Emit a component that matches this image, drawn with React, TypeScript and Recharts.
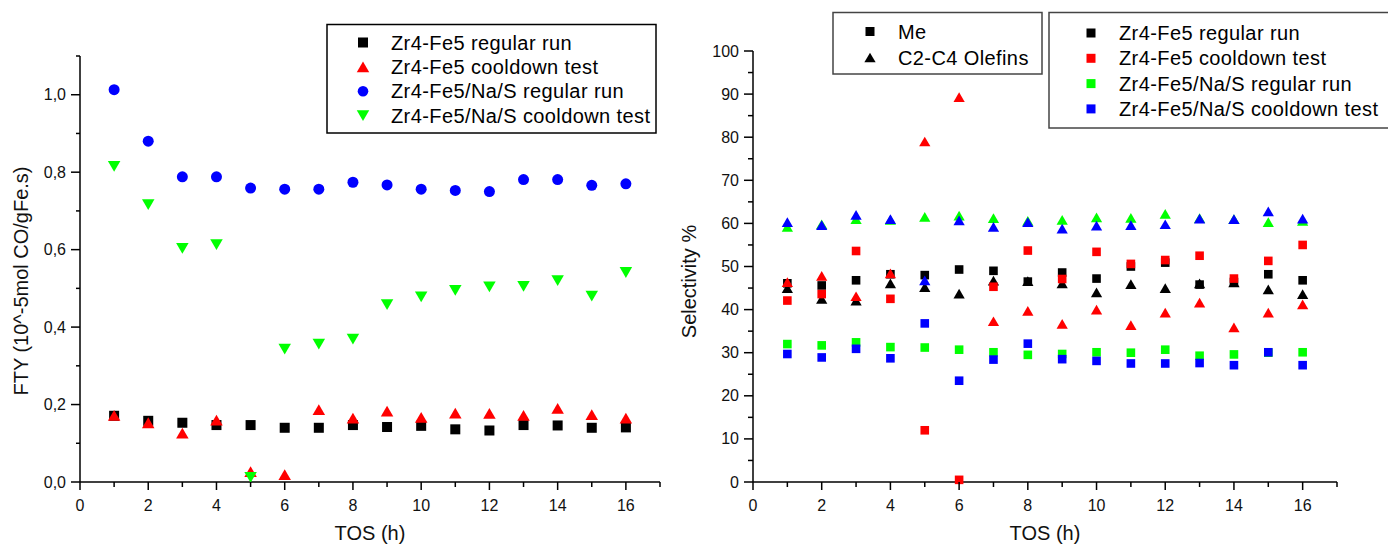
import React from "react";
import { ScatterChart, Scatter, XAxis, YAxis, Label } from "recharts";

// time on stream (h)
const tos = [1, 2, 3, 4, 5, 6, 7, 8, 9, 10, 11, 12, 13, 14, 15, 16];
const tosTicks = [0, 1, 2, 3, 4, 5, 6, 7, 8, 9, 10, 11, 12, 13, 14, 15, 16, 17];
const ftyTicks = [0, 0.1, 0.2, 0.3, 0.4, 0.5, 0.6, 0.7, 0.8, 0.9, 1.0, 1.1];
const selTicks = [0, 5, 10, 15, 20, 25, 30, 35, 40, 45, 50, 55, 60, 65, 70, 75, 80, 85, 90, 95, 100];

// left panel: FTY (10^-5 mol CO/gFe.s)
const ftyFe5Regular = [0.171, 0.158, 0.153, 0.147, 0.147, 0.14, 0.14, 0.147, 0.142, 0.145, 0.136, 0.133, 0.147, 0.146, 0.14, 0.141];
const ftyFe5Cooldown = [0.172, 0.153, 0.126, 0.16, 0.027, 0.019, 0.187, 0.165, 0.183, 0.167, 0.178, 0.177, 0.172, 0.19, 0.174, 0.165];
const ftyNaSRegular = [1.013, 0.88, 0.788, 0.788, 0.759, 0.756, 0.756, 0.774, 0.767, 0.756, 0.753, 0.75, 0.781, 0.781, 0.766, 0.77];
const ftyNaSCooldown = [0.815, 0.716, 0.603, 0.613, 0.012, 0.343, 0.356, 0.369, 0.458, 0.478, 0.495, 0.504, 0.505, 0.52, 0.48, 0.541];

// right panel: selectivity %
const meFe5Regular = [46.1, 45.6, 46.8, 48.2, 48.0, 49.3, 49.0, 46.5, 48.6, 47.2, 50.0, 50.9, 45.8, 46.4, 48.2, 46.8];
const olFe5Regular = [45.0, 42.5, 42.1, 46.1, 45.2, 43.7, 46.7, 46.6, 46.1, 44.0, 45.9, 45.0, 46.1, 46.3, 44.7, 43.6];
const meFe5Cooldown = [42.1, 43.6, 53.6, 42.5, 12.0, 0.5, 45.3, 53.7, 47.1, 53.4, 50.6, 51.5, 52.5, 47.2, 51.3, 55.0];
const olFe5Cooldown = [46.4, 47.8, 43.1, 48.4, 79.0, 89.3, 37.3, 39.7, 36.7, 40.0, 36.4, 39.3, 41.6, 35.9, 39.3, 41.2];
const meNaSRegular = [32.0, 31.7, 32.4, 31.3, 31.2, 30.7, 30.1, 29.5, 29.7, 30.1, 30.0, 30.7, 29.3, 29.6, 30.0, 30.1];
const olNaSRegular = [59.2, 59.8, 61.0, 60.8, 61.5, 61.8, 61.2, 60.6, 60.8, 61.4, 61.3, 62.2, 61.2, 61.0, 60.3, 60.6];
const meNaSCooldown = [29.7, 28.9, 30.9, 28.7, 36.8, 23.5, 28.4, 32.1, 28.5, 28.1, 27.5, 27.5, 27.6, 27.1, 30.1, 27.1];
const olNaSCooldown = [60.3, 59.6, 62.0, 61.0, 46.8, 60.7, 59.2, 60.3, 58.8, 59.5, 59.6, 59.8, 61.1, 61.0, 62.8, 61.1];

const leftLegend = [
  "Zr4-Fe5 regular run",
  "Zr4-Fe5 cooldown test",
  "Zr4-Fe5/Na/S regular run",
  "Zr4-Fe5/Na/S cooldown test",
];
const productLegend = ["Me", "C2-C4 Olefins"];
const sampleLegend = leftLegend;

const BLACK = "#000000";
const RED = "#ff0000";
const GREEN = "#00ff00";
const BLUE = "#0000ff";
const FONT = "'Liberation Sans', Arial, sans-serif";

const toPoints = (vals: number[]) => vals.map((v, i) => ({ x: tos[i], y: v }));

type Kind = "square" | "circle" | "up" | "down";

function Marker({ cx, cy, kind, color, size }: { cx: number; cy: number; kind: Kind; color: string; size: number }) {
  if (cx == null || cy == null) return null;
  const h = size / 2;
  if (kind === "square") return <rect x={cx - h} y={cy - h} width={size} height={size} fill={color} />;
  if (kind === "circle") return <circle cx={cx} cy={cy} r={h + 0.3} fill={color} />;
  const w = size * 1.25;
  const th = size * 1.08;
  if (kind === "up")
    return <polygon points={`${cx},${cy - th / 2} ${cx - w / 2},${cy + th / 2} ${cx + w / 2},${cy + th / 2}`} fill={color} />;
  return <polygon points={`${cx},${cy + th / 2} ${cx - w / 2},${cy - th / 2} ${cx + w / 2},${cy - th / 2}`} fill={color} />;
}

const shape = (kind: Kind, color: string, size: number) => (p: any) => (
  <Marker cx={p.cx} cy={p.cy} kind={kind} color={color} size={size} />
);

function XTick(props: any) {
  const { x, y, payload } = props;
  const major = payload.value % 2 === 0;
  return (
    <g>
      <line x1={x} y1={y} x2={x} y2={y + (major ? 8 : 5)} stroke="#000" strokeWidth={1.5} />
      {major && (
        <text x={x} y={y + 29} textAnchor="middle" fontSize={16} fontFamily={FONT} fill="#111">
          {payload.value}
        </text>
      )}
    </g>
  );
}

function FtyTick(props: any) {
  const { x, y, payload } = props;
  const tenth = Math.round(payload.value * 10);
  const major = tenth % 2 === 0;
  return (
    <g>
      <line x1={x} y1={y} x2={x - (major ? 9 : 4)} y2={y} stroke="#000" strokeWidth={1.5} />
      {major && (
        <text x={x - 14} y={y + 5.5} textAnchor="end" fontSize={16} fontFamily={FONT} fill="#111">
          {payload.value.toFixed(1).replace(".", ",")}
        </text>
      )}
    </g>
  );
}

function SelTick(props: any) {
  const { x, y, payload } = props;
  const major = payload.value % 10 === 0;
  return (
    <g>
      <line x1={x} y1={y} x2={x - (major ? 9 : 5)} y2={y} stroke="#000" strokeWidth={1.5} />
      {major && (
        <text x={x - 14} y={y + 5.5} textAnchor="end" fontSize={16} fontFamily={FONT} fill="#111">
          {payload.value}
        </text>
      )}
    </g>
  );
}

const xLabel = (p: any) => {
  const vb = p.viewBox;
  return (
    <text x={vb.x + vb.width / 2} y={vb.y + 58} textAnchor="middle" fontSize={20} fontFamily={FONT} fill="#111">
      TOS (h)
    </text>
  );
};

const yLabel = (text: string, bx: number, dy: number) => (p: any) => {
  const vb = p.viewBox;
  const cy = vb.y + vb.height / 2 + dy;
  return (
    <text x={bx} y={cy} transform={`rotate(-90 ${bx} ${cy})`} textAnchor="middle" fontSize={20} fontFamily={FONT} fill="#111">
      {text}
    </text>
  );
};

const axisLine = { stroke: "#000", strokeWidth: 1.5 };

function LegendRow({ x, y, kind, color, text, size }: { x: number; y: number; kind: Kind; color: string; text: string; size: number }) {
  return (
    <g>
      <Marker cx={x} cy={y - 7} kind={kind} color={color} size={size} />
      <text x={x + 28} y={y} fontSize={20} letterSpacing={0.4} fontFamily={FONT} fill="#000">
        {text}
      </text>
    </g>
  );
}

function Legends() {
  const leftKinds: Kind[] = ["square", "up", "circle", "down"];
  const colors = [BLACK, RED, BLUE, GREEN];
  const sampleColors = [BLACK, RED, GREEN, BLUE];
  return (
    <svg width={1388} height={547} style={{ position: "absolute", left: 0, top: 0, pointerEvents: "none" }}>
      <rect x={327} y={24.5} width={329} height={108.5} fill="#fff" stroke="#000" strokeWidth={1.5} />
      {leftLegend.map((t, i) => (
        <LegendRow key={t} x={363} y={49.5 + i * 24.4} kind={leftKinds[i]} color={colors[i]} text={t} size={10} />
      ))}
      <rect x={833} y={12.5} width={209} height={61.5} fill="#fff" stroke="#444" strokeWidth={1.5} />
      {productLegend.map((t, i) => (
        <LegendRow key={t} x={870} y={38.5 + i * 26} kind={i === 0 ? "square" : "up"} color={BLACK} text={t} size={9} />
      ))}
      <rect x={1049} y={12.5} width={360} height={115.5} fill="#fff" stroke="#444" strokeWidth={1.5} />
      {sampleLegend.map((t, i) => (
        <LegendRow key={t} x={1091} y={40 + i * 25.3} kind="square" color={sampleColors[i]} text={t} size={9} />
      ))}
    </svg>
  );
}

export default function App() {
  return (
    <div
      style={{
        position: "absolute",
        left: 0,
        top: 0,
        width: 1388,
        height: 547,
        overflow: "hidden",
        background: "#fff",
        fontFamily: FONT,
      }}
    >
      <div style={{ position: "absolute", left: 0, top: 0 }}>
        <ScatterChart width={690} height={547} margin={{ top: 56, right: 30, bottom: 0, left: 0 }}>
          <XAxis
            type="number"
            dataKey="x"
            domain={[0, 17]}
            ticks={tosTicks}
            interval={0}
            height={65}
            tickSize={0}
            tickMargin={0}
            tickLine={false}
            axisLine={axisLine}
            tick={<XTick />}
          >
            <Label content={xLabel} />
          </XAxis>
          <YAxis
            type="number"
            dataKey="y"
            domain={[0, 1.1]}
            ticks={ftyTicks}
            interval={0}
            width={80}
            tickSize={0}
            tickMargin={0}
            tickLine={false}
            axisLine={axisLine}
            tick={<FtyTick />}
          >
            <Label content={yLabel("FTY (10^-5mol CO/gFe.s)", 28, 12)} />
          </YAxis>
          <Scatter name={leftLegend[0]} data={toPoints(ftyFe5Regular)} shape={shape("square", BLACK, 10)} isAnimationActive={false} />
          <Scatter name={leftLegend[1]} data={toPoints(ftyFe5Cooldown)} shape={shape("up", RED, 10)} isAnimationActive={false} />
          <Scatter name={leftLegend[2]} data={toPoints(ftyNaSRegular)} shape={shape("circle", BLUE, 10.4)} isAnimationActive={false} />
          <Scatter name={leftLegend[3]} data={toPoints(ftyNaSCooldown)} shape={shape("down", GREEN, 10)} isAnimationActive={false} />
        </ScatterChart>
      </div>

      <div style={{ position: "absolute", left: 670, top: 0 }}>
        <ScatterChart width={718} height={547} margin={{ top: 51, right: 51, bottom: 0, left: 0 }}>
          <XAxis
            type="number"
            dataKey="x"
            domain={[0, 17]}
            ticks={tosTicks}
            interval={0}
            height={65}
            tickSize={0}
            tickMargin={0}
            tickLine={false}
            axisLine={axisLine}
            tick={<XTick />}
          >
            <Label content={xLabel} />
          </XAxis>
          <YAxis
            type="number"
            dataKey="y"
            domain={[0, 100]}
            ticks={selTicks}
            interval={0}
            width={83}
            tickSize={0}
            tickMargin={0}
            tickLine={false}
            axisLine={axisLine}
            tick={<SelTick />}
          >
            <Label content={yLabel("Selectivity %", 26, 15)} />
          </YAxis>
          <Scatter name="Zr4-Fe5 regular run Me" data={toPoints(meFe5Regular)} shape={shape("square", BLACK, 8.6)} isAnimationActive={false} />
          <Scatter name="Zr4-Fe5 regular run Olefins" data={toPoints(olFe5Regular)} shape={shape("up", BLACK, 9)} isAnimationActive={false} />
          <Scatter name="Zr4-Fe5 cooldown test Me" data={toPoints(meFe5Cooldown)} shape={shape("square", RED, 8.6)} isAnimationActive={false} />
          <Scatter name="Zr4-Fe5 cooldown test Olefins" data={toPoints(olFe5Cooldown)} shape={shape("up", RED, 9)} isAnimationActive={false} />
          <Scatter name="Zr4-Fe5/Na/S regular run Me" data={toPoints(meNaSRegular)} shape={shape("square", GREEN, 8.6)} isAnimationActive={false} />
          <Scatter name="Zr4-Fe5/Na/S regular run Olefins" data={toPoints(olNaSRegular)} shape={shape("up", GREEN, 9)} isAnimationActive={false} />
          <Scatter name="Zr4-Fe5/Na/S cooldown test Me" data={toPoints(meNaSCooldown)} shape={shape("square", BLUE, 8.6)} isAnimationActive={false} />
          <Scatter name="Zr4-Fe5/Na/S cooldown test Olefins" data={toPoints(olNaSCooldown)} shape={shape("up", BLUE, 9)} isAnimationActive={false} />
        </ScatterChart>
      </div>

      <Legends />
    </div>
  );
}
